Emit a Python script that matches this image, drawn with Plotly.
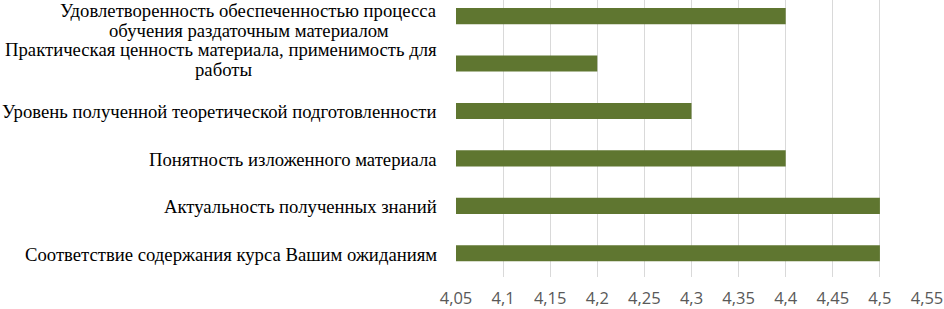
import plotly.graph_objects as go

categories = [
    "Соответствие содержания курса Вашим ожиданиям",
    "Актуальность полученных знаний",
    "Понятность изложенного материала",
    "Уровень полученной теоретической подготовленности",
    "Практическая ценность материала, применимость для<br>работы",
    "Удовлетворенность обеспеченностью процесса<br>обучения раздаточным материалом",
]
values = [4.5, 4.5, 4.4, 4.3, 4.2, 4.4]
tick_vals = [4.05, 4.1, 4.15, 4.2, 4.25, 4.3, 4.35, 4.4, 4.45, 4.5, 4.55]
tick_text = ["4,05", "4,1", "4,15", "4,2", "4,25", "4,3", "4,35", "4,4", "4,45", "4,5", "4,55"]

fig = go.Figure(go.Bar(
    x=values, y=list(range(len(categories))), orientation="h",
    marker=dict(color="#5F7630", line=dict(width=0)),
    width=0.34,
))

label_font = dict(family="Liberation Serif", size=18.7, color="#000000")
# layout tweaks for the wrapped labels: vertical nudge (px) and x-centre of 2nd line (px from plot left)
nudge = {4: -4, 5: 4}
second_center = {4: -233, 5: -207}

for i, c in enumerate(categories):
    lines = c.split("<br>")
    if len(lines) == 1:
        fig.add_annotation(x=0, xref="paper", y=i, yref="y", text=c, showarrow=False,
                           xanchor="right", xshift=-17, yshift=-1, font=label_font)
    else:
        dy = nudge.get(i, 0)
        fig.add_annotation(x=0, xref="paper", y=i, yref="y", text=lines[0], showarrow=False,
                           xanchor="right", xshift=-17, yshift=10 - dy, font=label_font)
        fig.add_annotation(x=0, xref="paper", y=i, yref="y", text=lines[1], showarrow=False,
                           xanchor="center", xshift=second_center.get(i, -220), yshift=-10 - dy,
                           font=label_font)

fig.update_layout(
    width=944, height=309,
    margin=dict(l=456, r=17, t=0, b=32),
    paper_bgcolor="white", plot_bgcolor="white",
    showlegend=False,
    xaxis=dict(range=[4.05, 4.55], tickvals=tick_vals, ticktext=tick_text,
               showgrid=True, gridcolor="#D9D9D9", gridwidth=1, zeroline=False,
               showline=False, ticks="outside", ticklen=6, tickcolor="rgba(0,0,0,0)",
               automargin=False,
               tickfont=dict(family="Open Sans", size=16.5, color="#595959")),
    yaxis=dict(range=[-0.5, 5.34], showticklabels=False, showgrid=False, zeroline=False,
               showline=False, ticks="", automargin=False),
)
fig.write_html("out.html", config={"displayModeBar": False},
               post_script="document.body.style.margin='0';document.body.style.overflow='hidden';")
